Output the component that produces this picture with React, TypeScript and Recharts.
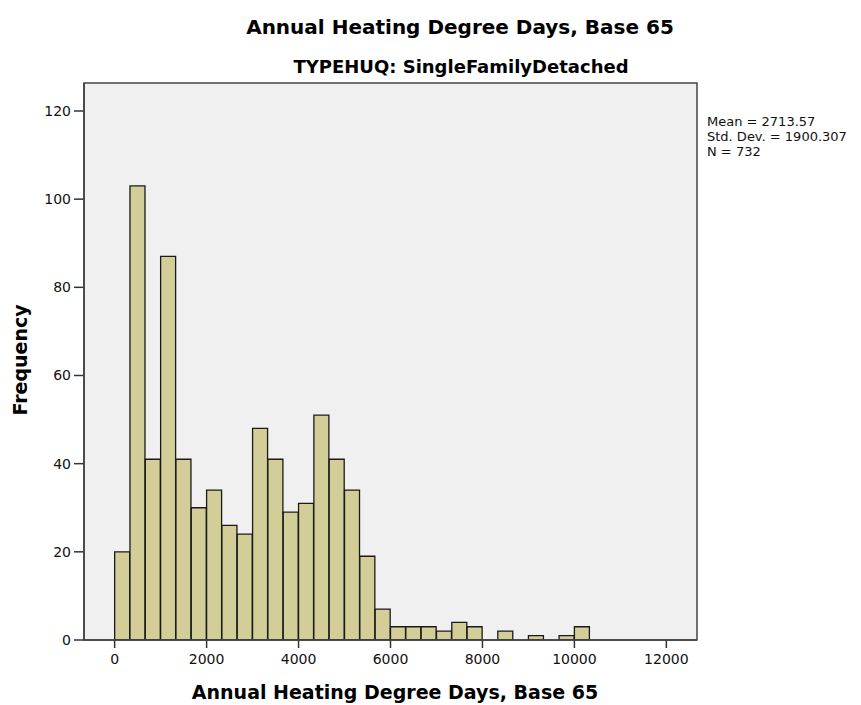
import React from "react";
import { ComposedChart, Bar, XAxis, YAxis, CartesianGrid } from "recharts";

// Histogram bin width (degree days) and counts per bin starting at 0
const BIN_WIDTH = 1000 / 3;
const counts: (number | null)[] = [
  20, 103, 41, 87, 41, 30, 34, 26, 24, 48, 41, 29, 31, 51, 41, 34, 19, 7,
  3, 3, 3, 2, 4, 3, null, 2, null, 1, null, 1, 3,
];
const xTicks = [0, 2000, 4000, 6000, 8000, 10000, 12000];
const yTicks = [0, 20, 40, 60, 80, 100, 120];
const statsLines = ["Mean = 2713.57", "Std. Dev. = 1900.307", "N = 732"];
const titleText = "Annual Heating Degree Days, Base 65";
const subtitleText = "TYPEHUQ: SingleFamilyDetached";
const xLabel = "Annual Heating Degree Days, Base 65";
const yLabel = "Frequency";

// each bar is placed at its bin centre on a numeric axis
const data = counts.map((c, i) => ({ mid: (i + 0.5) * BIN_WIDTH, count: c }));
const xDomain = [-2 * BIN_WIDTH, 38 * BIN_WIDTH];

const FONT = "'DejaVu Sans', 'Liberation Sans', Arial, sans-serif";
const W = 861;
const H = 705;
const M = { top: 83, right: 164, bottom: 65, left: 84 };

export default function App() {
  return (
    <div style={{ position: "absolute", left: 0, top: 0, width: W, height: H, background: "#fff" }}>
      <ComposedChart
        width={W}
        height={H}
        data={data}
        margin={{ top: M.top, right: M.right, bottom: M.bottom - 30, left: M.left - 70 }}
        barCategoryGap={0}
        barGap={0}
      >
        <CartesianGrid fill="#f0f0f0" horizontal={false} vertical={false} stroke="none" />
        <XAxis
          dataKey="mid"
          type="number"
          domain={xDomain}
          ticks={xTicks}
          allowDataOverflow
          height={30}
          tickSize={8}
          tickMargin={6}
          axisLine={{ stroke: "#333", strokeWidth: 1.5 }}
          tickLine={{ stroke: "#333", strokeWidth: 1.5 }}
          tick={{ fill: "#111", fontSize: 14, fontFamily: FONT }}
        />
        <YAxis
          type="number"
          domain={[0, 126.35]}
          ticks={yTicks}
          allowDataOverflow
          width={70}
          tickSize={10}
          tickMargin={3}
          axisLine={{ stroke: "#333", strokeWidth: 1.5 }}
          tickLine={{ stroke: "#333", strokeWidth: 1.5 }}
          tick={{ fill: "#111", fontSize: 14, fontFamily: FONT }}
        />
        <Bar
          dataKey="count"
          fill="#d3ce97"
          stroke="#1a1a1a"
          strokeWidth={1.3}
          isAnimationActive={false}
        />
      </ComposedChart>
      <svg
        width={W}
        height={H}
        style={{ position: "absolute", left: 0, top: 0, pointerEvents: "none" }}
      >
        <rect
          x={M.left}
          y={M.top}
          width={W - M.left - M.right}
          height={H - M.top - M.bottom}
          fill="none"
          stroke="#444"
          strokeWidth={1.5}
        />
        <text x={460} y={34} textAnchor="middle" fontFamily={FONT} fontWeight="bold" fontSize={20} fill="#000">
          {titleText}
        </text>
        <text x={461} y={73} textAnchor="middle" fontFamily={FONT} fontWeight="bold" fontSize={18} fill="#000">
          {subtitleText}
        </text>
        <text x={395} y={699} textAnchor="middle" fontFamily={FONT} fontWeight="bold" fontSize={19} fill="#000">
          {xLabel}
        </text>
        <text
          x={27}
          y={360}
          textAnchor="middle"
          transform="rotate(-90 27 360)"
          fontFamily={FONT}
          fontWeight="bold"
          fontSize={19}
          fill="#000"
        >
          {yLabel}
        </text>
        {statsLines.map((s, i) => (
          <text key={s} x={707} y={126 + i * 15} fontFamily={FONT} fontSize={13} fill="#111">
            {s}
          </text>
        ))}
      </svg>
    </div>
  );
}
